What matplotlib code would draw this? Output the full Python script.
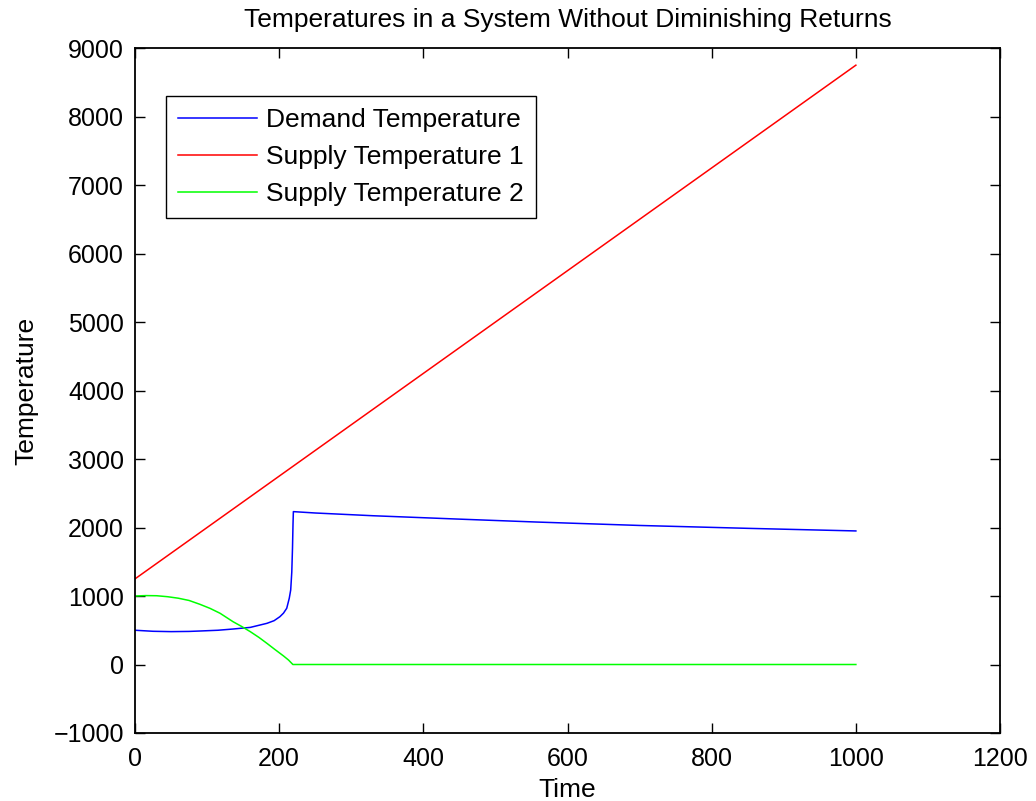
import numpy as np
import matplotlib
matplotlib.use("Agg")
import matplotlib.pyplot as plt

plt.rcParams['font.family'] = ['Liberation Sans', 'DejaVu Sans']

# values
t_demand = [0, 25, 50, 75, 90, 115, 136, 160, 183, 193, 201, 206, 210.5, 214, 216,
            217.5, 218.5, 219.2, 219.7, 250, 290, 330, 446, 557, 700, 850, 1000]
demand = [500, 485, 480, 483, 489, 500, 518, 542, 601, 640, 698, 750, 821, 967, 1088,
          1350, 1700, 2050, 2232, 2212, 2192, 2172, 2124, 2080, 2030, 1988, 1950]

t_supply1 = [0, 1000]
supply1 = [1250, 8750]

t_supply2 = [0, 15, 30, 45, 60, 75, 90, 104, 118, 136, 148, 160, 172, 183, 194, 206, 213, 219, 1000]
supply2 = [1000, 1006, 1004, 990, 968, 935, 879, 820, 748, 625, 555, 479, 395, 309, 220, 125, 65, 0, 0]

fig = plt.figure(figsize=(10.36, 8.01), dpi=100)
ax = fig.add_axes([0.1303, 0.0849, 0.8350, 0.8551])

ax.plot(t_demand, demand, color='#0000ff', lw=1.1, label='Demand Temperature')
ax.plot(t_supply1, supply1, color='#ff0000', lw=1.1, label='Supply Temperature 1')
ax.plot(t_supply2, supply2, color='#00ff00', lw=1.1, label='Supply Temperature 2')

ax.set_xlim(0, 1200)
ax.set_ylim(-1000, 9000)
ax.set_xticks(np.arange(0, 1201, 200))
ax.set_yticks(np.arange(-1000, 9001, 1000))
ax.set_yticklabels([str(v).replace('-', '\u2212') for v in range(-1000, 9001, 1000)])
ax.tick_params(direction='in', length=7, width=1, top=True, right=True, labelsize=18)
ax.tick_params(axis='x', pad=10)
ax.tick_params(axis='y', pad=8)
for s in ax.spines.values():
    s.set_linewidth(1.3)

ax.set_title('Temperatures in a System Without Diminishing Returns', fontsize=19, pad=15)
ax.set_xlabel('Time', fontsize=19, labelpad=5)
ax.set_ylabel('Temperature', fontsize=19, labelpad=11)

leg = ax.legend(loc='upper left', bbox_to_anchor=(0.036, 0.93), fontsize=19,
                handlelength=3.0, fancybox=False, framealpha=1, edgecolor='black',
                borderaxespad=0, borderpad=0.45, labelspacing=0.5, handletextpad=0.35)
leg.get_frame().set_linewidth(1.0)

fig.savefig('out.png', dpi=100)
